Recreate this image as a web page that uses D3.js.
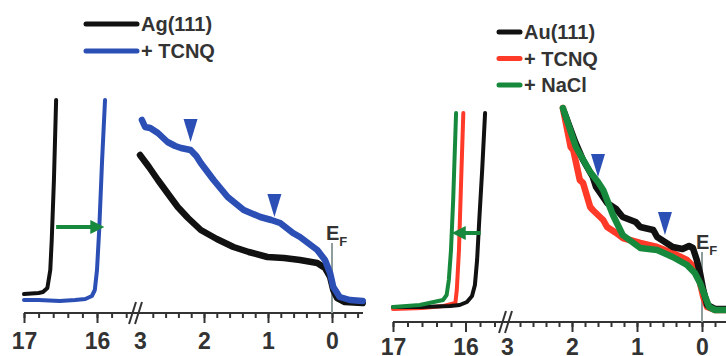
<!DOCTYPE html>
<html>
<head>
<meta charset="utf-8">
<script src="https://cdn.jsdelivr.net/npm/d3@7"></script>
<style>
  body { margin: 0; background: #fff; }
  svg { display: block; }
  text { font-family: "Liberation Sans", Arial, sans-serif; font-weight: bold; fill: #333; }
</style>
</head>
<body>
<svg id="chart" width="726" height="356"></svg>
<script>
// binding energy (eV) vs intensity (a.u.)

// Ag(111) panel
const agClean1 = [[17.0, 19], [16.8, 20], [16.74, 21], [16.68, 25], [16.64, 43], [16.62, 73], [16.59, 133], [16.56, 213]];
const agTcnq1 = [[17.0, 13], [16.8, 13], [16.51, 12], [16.3, 13], [16.16, 14], [16.07, 17], [16.03, 23], [16.0, 43], [15.97, 83], [15.93, 153], [15.89, 213]];
const agClean2 = [[3.0, 158], [2.86, 146], [2.72, 133], [2.56, 119], [2.41, 106], [2.25, 95], [2.05, 83], [1.8, 74], [1.54, 66], [1.3, 61], [1.01, 56], [0.75, 55], [0.5, 53], [0.23, 50], [0.11, 45], [0.03, 36], [-0.02, 23], [-0.08, 15], [-0.2, 11], [-0.48, 10]];
const agTcnq2 = [[2.97, 193], [2.92, 186], [2.84, 185], [2.72, 180], [2.57, 171], [2.45, 167], [2.36, 165], [2.21, 163], [2.12, 157], [2.05, 150], [1.85, 133], [1.63, 116], [1.38, 103], [1.12, 96], [0.95, 93], [0.81, 90], [0.61, 80], [0.5, 76], [0.23, 63], [0.11, 53], [0.03, 40], [-0.02, 26], [-0.12, 16], [-0.28, 13], [-0.48, 12]];
const agMarkers = [[2.21, 171], [0.9, 96]];
const agArrow = [16.56, 15.9, 86];

// Au(111) panel
const auClean1 = [[17.0, 15], [16.6, 15], [16.21, 16], [16.08, 17], [15.98, 20], [15.91, 26], [15.87, 37], [15.84, 62], [15.81, 102], [15.77, 152], [15.73, 209]];
const auTcnq1 = [[17.0, 13], [16.6, 14], [16.3, 16], [16.14, 19], [16.12, 32], [16.09, 72], [16.06, 142], [16.03, 209]];
const auNacl1 = [[17.0, 15], [16.63, 17], [16.31, 22], [16.26, 27], [16.23, 42], [16.2, 72], [16.17, 122], [16.13, 209]];
const auClean2 = [[2.12, 210], [1.95, 180], [1.83, 162], [1.68, 145], [1.63, 135], [1.46, 119], [1.32, 113], [1.22, 105], [1.02, 100], [0.95, 95], [0.75, 92], [0.69, 85], [0.45, 75], [0.3, 73], [0.2, 76], [0.14, 74], [0.08, 62], [0.03, 49], [-0.02, 32], [-0.08, 17], [-0.2, 13], [-0.37, 13]];
const auTcnq2 = [[2.14, 214], [2.02, 175], [1.98, 172], [1.88, 142], [1.83, 139], [1.72, 115], [1.68, 112], [1.52, 102], [1.46, 95], [1.32, 89], [1.22, 84], [0.95, 79], [0.69, 75], [0.45, 69], [0.23, 62], [0.08, 52], [0.03, 39], [-0.02, 25], [-0.08, 15], [-0.2, 12], [-0.37, 12]];
const auNacl2 = [[2.14, 214], [1.94, 175], [1.72, 150], [1.6, 140], [1.52, 132], [1.37, 107], [1.22, 87], [0.95, 74], [0.69, 72], [0.45, 65], [0.23, 57], [0.11, 49], [0.03, 39], [-0.05, 25], [-0.11, 15], [-0.2, 12], [-0.37, 12]];
const auMarkers = [[1.6, 145], [0.57, 87]];
const auArrow = [15.79, 16.19, 89];

const tickLabels1 = [17, 16];
const tickLabels2 = [3, 2, 1, 0];

const colors = { clean: "#111111", tcnq: "#2c4fb5", red: "#ff3a28", nacl: "#17893c", marker: "#2c4fb5", ef: "#8e9c9c" };

const svg = d3.select("#chart");

function minorTicks(a, b) {
  let out = [];
  for (let i = Math.round(a * 5); i >= Math.round(b * 5); i--) out.push(i / 5);
  return out;
}

function drawPanel(p) {
  const g = svg.append("g");
  const x1 = d3.scaleLinear().domain([17, 16]).range(p.seg1);
  const x2 = d3.scaleLinear().domain([3, 0]).range(p.seg2);
  const y = d3.scaleLinear().domain([0, 220]).range([p.axisY, p.axisY - 220]);

  // axis line
  g.append("line")
    .attr("x1", p.axisStart).attr("x2", p.axisEnd)
    .attr("y1", p.axisY).attr("y2", p.axisY)
    .attr("stroke", "#333").attr("stroke-width", 2);

  // ticks
  const ax = (scale, vals, size, labels) => {
    const a = d3.axisBottom(scale).tickValues(vals).tickSize(size).tickPadding(p.pad);
    a.tickFormat(labels ? d3.format("d") : "");
    const s = g.append("g").attr("transform", `translate(0,${p.axisY})`).call(a);
    s.select(".domain").remove();
    s.selectAll("line").attr("stroke", "#333").attr("stroke-width", 2);
    s.selectAll("text").style("font-size", "23px").attr("fill", "#333");
    return s;
  };
  ax(x1, minorTicks(17, 15.6), 5);
  ax(x2, minorTicks(2.8, p.minEnd), 5);
  ax(x1, tickLabels1, 10, true);
  const maj2 = ax(x2, tickLabels2, 10, true);
  maj2.selectAll(".tick").filter(d => d === 3).select("line").remove();

  // break marks
  [0, 6].forEach(o => {
    g.append("line")
      .attr("x1", p.brk + o - 4).attr("y1", p.axisY + 11)
      .attr("x2", p.brk + o + 3).attr("y2", p.axisY - 11)
      .attr("stroke", "#333").attr("stroke-width", 2);
  });

  // E_F
  g.append("line")
    .attr("x1", x2(0)).attr("x2", x2(0))
    .attr("y1", y(70)).attr("y2", y(0))
    .attr("stroke", colors.ef).attr("stroke-width", 2);
  const ef = g.append("text").attr("x", x2(0) - 6).attr("y", y(70) - 3).style("font-size", "20px");
  ef.append("tspan").text("E");
  ef.append("tspan").attr("dy", 6).style("font-size", "13px").text("F");

  // curves
  const line1 = d3.line().x(d => x1(d[0])).y(d => y(d[1]));
  const line2 = d3.line().x(d => x2(d[0])).y(d => y(d[1]));
  p.series.forEach(s => {
    g.append("path").datum(s.seg1).attr("d", line1)
      .attr("fill", "none").attr("stroke", s.color).attr("stroke-width", 4)
      .attr("stroke-linejoin", "round").attr("stroke-linecap", "round");
    g.append("path").datum(s.seg2).attr("d", line2)
      .attr("fill", "none").attr("stroke", s.color).attr("stroke-width", 6.5)
      .attr("stroke-linejoin", "round").attr("stroke-linecap", "round");
  });

  // markers (down triangles, tip at the data point)
  g.selectAll(".mk").data(p.markers).enter().append("path")
    .attr("d", d => {
      const cx = x2(d[0]), cy = y(d[1]);
      return `M${cx - 7},${cy - 23}L${cx + 7},${cy - 23}L${cx},${cy}Z`;
    })
    .attr("fill", colors.marker);

  // shift arrow
  const [ea, eb, av] = p.arrow;
  const xa = x1(ea), xb = x1(eb), ya = y(av);
  const dir = Math.sign(xb - xa);
  g.append("line")
    .attr("x1", xa).attr("x2", xb - dir * 12)
    .attr("y1", ya).attr("y2", ya)
    .attr("stroke", colors.nacl).attr("stroke-width", 4);
  g.append("path")
    .attr("d", `M${xb},${ya}L${xb - dir * 14},${ya - 7}L${xb - dir * 14},${ya + 7}Z`)
    .attr("fill", colors.nacl);

  // legend
  p.legend.forEach((l, i) => {
    const ly = p.legY + i * p.legStep;
    g.append("line")
      .attr("x1", p.legX).attr("x2", p.legX + p.legLen)
      .attr("y1", ly).attr("y2", ly)
      .attr("stroke", l.color).attr("stroke-width", 5).attr("stroke-linecap", "round");
    g.append("text").attr("x", p.legX + p.legLen + 4).attr("y", ly)
      .attr("dominant-baseline", "central").style("font-size", "20px").text(l.label);
  });
}

drawPanel({
  seg1: [24, 97], seg2: [140, 332], axisY: 313, axisStart: 24, axisEnd: 363, pad: 10,
  minEnd: -0.4, brk: 133,
  series: [
    { color: colors.clean, seg1: agClean1, seg2: agClean2 },
    { color: colors.tcnq, seg1: agTcnq1, seg2: agTcnq2 }
  ],
  markers: agMarkers, arrow: agArrow,
  legend: [{ label: "Ag(111)", color: colors.clean }, { label: "+ TCNQ", color: colors.tcnq }],
  legX: 86, legY: 24, legStep: 27, legLen: 51
});

drawPanel({
  seg1: [393, 465.5], seg2: [507, 702], axisY: 322, axisStart: 393, axisEnd: 726, pad: 7,
  minEnd: -0.2, brk: 503,
  series: [
    { color: colors.red, seg1: auTcnq1, seg2: auTcnq2 },
    { color: colors.clean, seg1: auClean1, seg2: auClean2 },
    { color: colors.nacl, seg1: auNacl1, seg2: auNacl2 }
  ],
  markers: auMarkers, arrow: auArrow,
  legend: [{ label: "Au(111)", color: colors.clean }, { label: "+ TCNQ", color: colors.red }, { label: "+ NaCl", color: colors.nacl }],
  legX: 499, legY: 32, legStep: 26.5, legLen: 21
});
</script>
</body>
</html>
